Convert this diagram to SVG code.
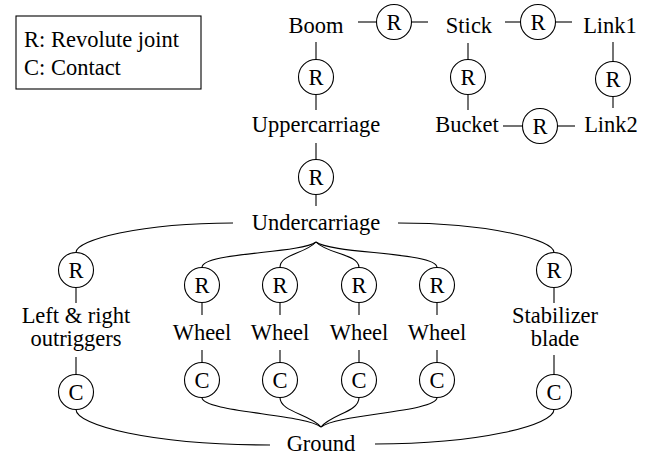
<svg xmlns="http://www.w3.org/2000/svg" width="654" height="458" viewBox="0 0 654 458">
  <style>
    text { font-family: "Liberation Serif", Tinos, "Nimbus Roman", "Nimbus Roman No9 L", FreeSerif, "Noto Serif", "DejaVu Serif", Times, serif; font-size: 22.5px; fill: #000; text-anchor: middle; }
    .legend text { text-anchor: start; }
    circle { fill: #fff; stroke: #000; stroke-width: 1.1; }
    .conn line, .conn path { fill: none; stroke: #000; stroke-width: 1.1; }
  </style>

  <rect x="0" y="0" width="654" height="458" fill="#fff"/>

  <g id="legend" class="legend">
    <rect x="16" y="16" width="185" height="73" fill="#fff" stroke="#000" stroke-width="1.1"/>
    <text x="24" y="47">R: Revolute joint</text>
    <text x="24" y="75">C: Contact</text>
  </g>

  <!-- connectors -->
  <g id="connectors" class="conn">
    <line x1="358" y1="22" x2="376.5" y2="22"/>
    <line x1="411.5" y1="22" x2="428" y2="22"/>
    <line x1="505" y1="22" x2="520.5" y2="22"/>
    <line x1="555.5" y1="22" x2="572" y2="22"/>
    <line x1="316" y1="42" x2="316" y2="59.5"/>
    <line x1="316" y1="94.5" x2="316" y2="110"/>
    <line x1="468" y1="43" x2="468" y2="59.5"/>
    <line x1="468" y1="94.5" x2="468" y2="110"/>
    <line x1="613" y1="42" x2="613" y2="61.5"/>
    <line x1="613" y1="96.5" x2="613" y2="108"/>
    <line x1="503" y1="126" x2="522.5" y2="126"/>
    <line x1="557.5" y1="126" x2="575" y2="126"/>
    <line x1="316" y1="143" x2="316" y2="159.5"/>
    <line x1="316" y1="194.5" x2="316" y2="206"/>

    <!-- undercarriage to outriggers / blade -->
    <path d="M233,223 C140,223 76,240 76,252.5"/>
    <path d="M398,223 C490,223 554,240 554,252.5"/>
    <!-- undercarriage to wheel joints -->
    <path d="M316,242 C300,254 202,252 202,267.5"/>
    <path d="M316,242 C305,254 280,254 280,267.5"/>
    <path d="M316,242 C327,254 359,254 359,267.5"/>
    <path d="M316,242 C332,254 437,252 437,267.5"/>

    <line x1="76" y1="287.5" x2="76" y2="303"/>
    <line x1="554" y1="287.5" x2="554" y2="303"/>
    <line x1="202" y1="302.5" x2="202" y2="315"/>
    <line x1="280" y1="302.5" x2="280" y2="315"/>
    <line x1="359" y1="302.5" x2="359" y2="315"/>
    <line x1="437" y1="302.5" x2="437" y2="315"/>
    <line x1="202" y1="350" x2="202" y2="362.5"/>
    <line x1="280" y1="350" x2="280" y2="362.5"/>
    <line x1="359" y1="350" x2="359" y2="362.5"/>
    <line x1="437" y1="350" x2="437" y2="362.5"/>
    <line x1="76" y1="357" x2="76" y2="374.5"/>
    <line x1="554" y1="355" x2="554" y2="374.5"/>

    <!-- wheel contacts to ground -->
    <path d="M202,397.5 C202,412 305,414 321,427"/>
    <path d="M280,397.5 C280,412 310,414 321,427"/>
    <path d="M359,397.5 C359,412 332,414 321,427"/>
    <path d="M437,397.5 C437,412 337,414 321,427"/>
    <!-- outrigger / blade contacts to ground -->
    <path d="M76,409.5 C76,425 150,445 270,445"/>
    <path d="M554,409.5 C554,425 480,444 375,444"/>
  </g>

  <!-- links -->
  <g id="boom"><text x="316" y="33">Boom</text></g>
  <g id="stick"><text x="469" y="33">Stick</text></g>
  <g id="link1"><text x="610" y="33">Link1</text></g>
  <g id="uppercarriage"><text x="316" y="132">Uppercarriage</text></g>
  <g id="bucket"><text x="467" y="132">Bucket</text></g>
  <g id="link2"><text x="611" y="132">Link2</text></g>
  <g id="undercarriage"><text x="316" y="230">Undercarriage</text></g>
  <g id="outriggers"><text x="76" y="323">Left &amp; right</text><text x="76" y="346">outriggers</text></g>
  <g id="wheel1"><text x="202" y="340">Wheel</text></g>
  <g id="wheel2"><text x="280" y="340">Wheel</text></g>
  <g id="wheel3"><text x="359" y="340">Wheel</text></g>
  <g id="wheel4"><text x="437" y="340">Wheel</text></g>
  <g id="blade"><text x="555" y="323">Stabilizer</text><text x="555" y="346">blade</text></g>
  <g id="ground"><text x="321" y="451">Ground</text></g>

  <!-- joints -->
  <g id="j-boom-stick"><circle cx="394" cy="22" r="17.5"/><text x="394" y="30">R</text></g>
  <g id="j-stick-link1"><circle cx="538" cy="22" r="17.5"/><text x="538" y="30">R</text></g>
  <g id="j-boom-upper"><circle cx="316" cy="77" r="17.5"/><text x="316" y="85">R</text></g>
  <g id="j-stick-bucket"><circle cx="468" cy="77" r="17.5"/><text x="468" y="85">R</text></g>
  <g id="j-link1-link2"><circle cx="613" cy="79" r="17.5"/><text x="613" y="87">R</text></g>
  <g id="j-bucket-link2"><circle cx="540" cy="126" r="17.5"/><text x="540" y="134">R</text></g>
  <g id="j-upper-under"><circle cx="316" cy="177" r="17.5"/><text x="316" y="185">R</text></g>
  <g id="j-outriggers"><circle cx="76" cy="270" r="17.5"/><text x="76" y="278">R</text></g>
  <g id="j-blade"><circle cx="554" cy="270" r="17.5"/><text x="554" y="278">R</text></g>
  <g id="j-wheel1"><circle cx="202" cy="285" r="17.5"/><text x="202" y="293">R</text></g>
  <g id="j-wheel2"><circle cx="280" cy="285" r="17.5"/><text x="280" y="293">R</text></g>
  <g id="j-wheel3"><circle cx="359" cy="285" r="17.5"/><text x="359" y="293">R</text></g>
  <g id="j-wheel4"><circle cx="437" cy="285" r="17.5"/><text x="437" y="293">R</text></g>
  <g id="c-wheel1"><circle cx="202" cy="380" r="17.5"/><text x="202" y="388">C</text></g>
  <g id="c-wheel2"><circle cx="280" cy="380" r="17.5"/><text x="280" y="388">C</text></g>
  <g id="c-wheel3"><circle cx="359" cy="380" r="17.5"/><text x="359" y="388">C</text></g>
  <g id="c-wheel4"><circle cx="437" cy="380" r="17.5"/><text x="437" y="388">C</text></g>
  <g id="c-outriggers"><circle cx="76" cy="392" r="17.5"/><text x="76" y="400">C</text></g>
  <g id="c-blade"><circle cx="554" cy="392" r="17.5"/><text x="554" y="400">C</text></g>
</svg>
